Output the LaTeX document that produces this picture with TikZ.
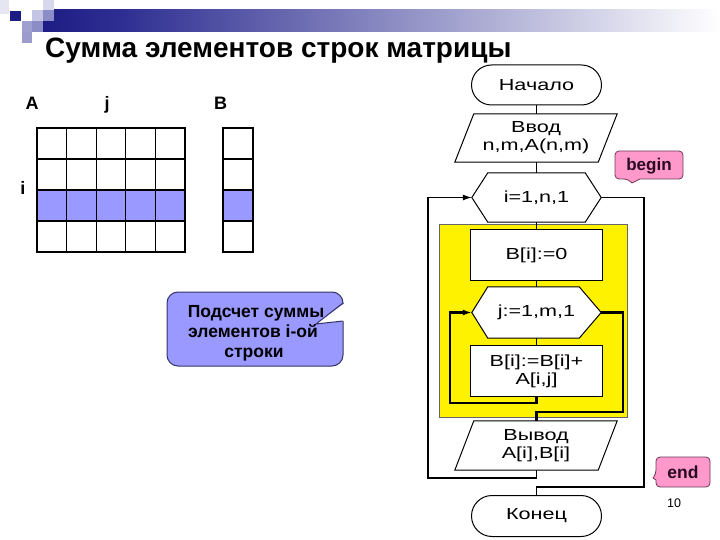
\documentclass[tikz,border=0pt]{standalone}
\usepackage{fontspec}
\setmainfont{Liberation Sans}
\newfontfamily\fcfont[FakeStretch=1.35]{Liberation Sans}
\usetikzlibrary{shapes.misc,calc,arrows.meta,backgrounds}
\definecolor{navyb}{HTML}{1C1C84}
\definecolor{midb}{HTML}{2E2E92}
\definecolor{lightb}{HTML}{6C6CB2}
\definecolor{lav}{HTML}{9999FF}
\definecolor{pinkc}{HTML}{FF99CC}
\definecolor{pinkd}{HTML}{6A3A55}
\definecolor{calbord}{HTML}{333366}
\definecolor{txtdark}{HTML}{2A0A20}
\begin{document}
\begin{tikzpicture}[x=1pt,y=-1pt,
  fc/.style={inner sep=0pt, font=\fcfont\fontsize{16}{18}\selectfont, align=center},
  shp/.style={draw=black, line width=1pt},
  conn/.style={line width=1.5pt},
  loopo/.style={line width=1.2pt},
  loopi/.style={line width=2.2pt},
  arr/.style={-{Latex[length=9pt,width=6pt]}},
  grid/.style={line width=1.3pt},
  lbl/.style={font=\bfseries\fontsize{18}{20}\selectfont, inner sep=0pt},
  ctext/.style={font=\bfseries\fontsize{17.5}{20}\selectfont, inner sep=0pt}
]
\useasboundingbox (0,0) rectangle (720,540);
% header decoration
\shade[left color=navyb, right color=midb] (43,10) rectangle (120,32);
\shade[left color=midb, right color=lightb] (120,10) rectangle (300,32);
\shade[left color=lightb, right color=white] (300,10) rectangle (720,32);
\fill[fill={rgb,255:red,230;green,230;blue,242}] (0,0) rectangle (9,14);
\fill[navyb] (10,11) rectangle (21,21);
\fill[fill={rgb,255:red,196;green,196;blue,228}] (32,10) rectangle (43,21);
\fill[fill={rgb,255:red,216;green,216;blue,238}] (43,0) rectangle (54,10);
\fill[fill={rgb,255:red,140;green,140;blue,200}] (43,10) rectangle (54,21);
\fill[fill={rgb,255:red,160;green,160;blue,208}] (22,21) rectangle (32,32);
\fill[fill={rgb,255:red,156;green,156;blue,204}] (22,32) rectangle (32,43);
\fill[fill={rgb,255:red,140;green,140;blue,198}] (32,21) rectangle (43,32);
% title
\node[anchor=base west, inner sep=0pt, font=\bfseries\fontsize{28}{30}\selectfont] (title) at (45,58) {Сумма элементов строк матрицы};
% matrix A
\fill[lav] (37,190) rectangle (185,221);
\draw[grid] (37,159) -- (185,159) (37,190) -- (185,190) (37,221) -- (185,221);
\draw[grid] (66.6,128) -- (66.6,252) (96.2,128) -- (96.2,252) (125.8,128) -- (125.8,252) (155.4,128) -- (155.4,252);
\draw[line width=2pt] (37,128) rectangle (185,252);
% matrix B
\fill[lav] (223,190) rectangle (253,221);
\draw[grid] (223,159) -- (253,159) (223,190) -- (253,190) (223,221) -- (253,221);
\draw[line width=2pt] (223,128) rectangle (253,252);
% labels
\node[lbl, anchor=base] (lA) at (32,110) {A};
\node[lbl, anchor=base] (lj) at (107,110) {j};
\node[lbl, anchor=base] (lB) at (220.5,110) {B};
\node[lbl, anchor=base] (li) at (23,195) {i};
% callout
\draw[calbord, fill=lav, line width=1pt, rounded corners=11pt] (167,292) rectangle (343,366);
\fill[white] (345,303) -- (316,324) -- (345,321) -- cycle;
\draw[calbord, line width=1pt, line join=miter] (343,303) -- (316,324) -- (343,321);
\node[ctext, anchor=base] (c1) at (256,317) {Подсчет суммы};
\node[ctext, anchor=base] (c2) at (253,337) {элементов i-ой};
\node[ctext, anchor=base] (c3) at (254,357) {строки};
% flowchart nodes
\node[fc, rounded rectangle, draw, line width=1pt, minimum width=130pt, minimum height=40pt] (start) at (536.5,85) {Начало};
\node[fc, minimum width=162pt, minimum height=48pt] (in1) at (536,138) {Ввод\\n,m,A(n,m)};
\node[fc, minimum width=129pt, minimum height=49pt] (h1) at (536.5,197.5) {i=1,n,1};
\node[fc, minimum width=131pt, minimum height=50pt] (b0) at (536.5,255) {B[i]:=0};
\node[fc, minimum width=129pt, minimum height=51pt] (h2) at (536.5,312.5) {j:=1,m,1};
\node[fc, minimum width=131pt, minimum height=50pt] (b1) at (536.5,371) {B[i]:=B[i]+\\A[i,j]};
\node[fc, minimum width=162pt, minimum height=49pt] (out) at (536,445.5) {Вывод\\A[i],B[i]};
\node[fc, rounded rectangle, draw, line width=1pt, minimum width=130pt, minimum height=41pt] (end) at (536.5,516) {Конец};
\begin{scope}[on background layer]
\fill[yellow, draw=black!60, line width=0.8pt] (439,224) rectangle (627,417);
\draw[shp, fill=white] (h1.west) -- ($(h1.north west)+(16,0)$) -- ($(h1.north east)+(-16,0)$) -- (h1.east) -- ($(h1.south east)+(-16,0)$) -- ($(h1.south west)+(16,0)$) -- cycle;
\draw[shp, fill=white] (h2.west) -- ($(h2.north west)+(16,0)$) -- ($(h2.north east)+(-22,0)$) -- (h2.east) -- ($(h2.south east)+(-22,0)$) -- ($(h2.south west)+(16,0)$) -- cycle;
\draw[shp, fill=white] (b0.north west) rectangle (b0.south east);
\draw[shp, fill=white] (b1.north west) rectangle (b1.south east);
\draw[shp, fill=white] ($(in1.north west)+(19,0)$) -- (in1.north east) -- ($(in1.south east)+(-19,0)$) -- (in1.south west) -- cycle;
\draw[shp, fill=white] ($(out.north west)+(19,0)$) -- (out.north east) -- ($(out.south east)+(-19,0)$) -- (out.south west) -- cycle;
\end{scope}
% connectors
\draw[conn] (start.south) -- (start.south |- in1.north);
\draw[conn] (start.south |- in1.south) -- (start.south |- h1.north);
\draw[conn] (h1.south) -- (b0.north);
\draw[conn] (b0.south) -- (h2.north);
\draw[conn] (h2.south) -- (b1.north);
\coordinate (l2) at (450,403);
\coordinate (r2) at (623,412);
\coordinate (l1) at (428,478);
\coordinate (r1) at (644,487);
\draw[loopi, arr] (b1.south) |- (l2) |- (h2.west);
\draw[loopi] (h2.east) -| (r2) -| (b1.south |- out.north);
\draw[loopo, arr] (b1.south |- out.south) |- (l1) |- (h1.west);
\draw[loopo] (h1.east) -| (r1) -| (end.north);
% begin / end callouts
\draw[pinkd, fill=pinkc, line width=0.8pt] (640,179) [rounded corners=4pt] -- (683,179) -- (683,151) -- (615,151) -- (615,179) -- (628,179) [sharp corners] -- (632,183) -- cycle;
\node[font=\bfseries\fontsize{17}{18}\selectfont, text=txtdark, inner sep=0pt] (tb) at (649,166) {begin};
\draw[pinkd, fill=pinkc, line width=0.8pt] (656,480) [rounded corners=4pt] -- (656,487) -- (710,487) -- (710,457) -- (656,457) -- (656,474) [sharp corners] -- (653,478) -- cycle;
\node[font=\bfseries\fontsize{17.5}{18}\selectfont, text=txtdark, inner sep=0pt] (te) at (683,472) {end};
\node[font=\fontsize{12.5}{14}\selectfont, inner sep=0pt] (pg) at (674,503) {10};
\end{tikzpicture}
\end{document}
